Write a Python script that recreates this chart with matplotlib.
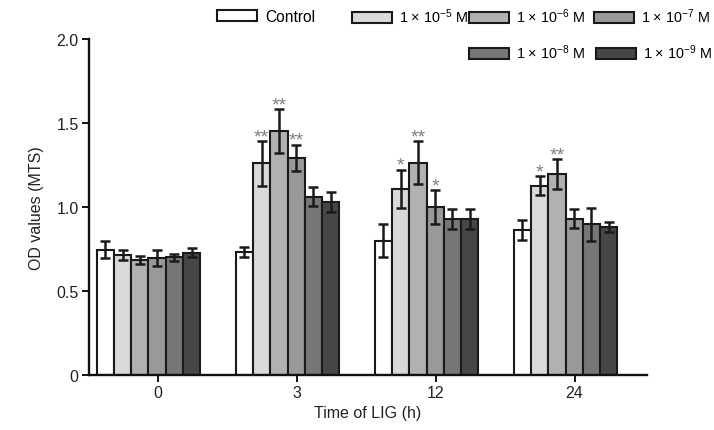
import matplotlib
matplotlib.use("Agg")
import matplotlib.pyplot as plt
from matplotlib.patches import Patch
import numpy as np

plt.rcParams['font.family'] = ['Liberation Sans', 'DejaVu Sans']
plt.rcParams['mathtext.fontset'] = 'custom'
plt.rcParams['mathtext.rm'] = 'Liberation Sans'
plt.rcParams['mathtext.it'] = 'Liberation Sans'

time_labels = ["0", "3", "12", "24"]
series_names = ["Control", "1 × 10$^{-5}$ M", "1 × 10$^{-6}$ M", "1 × 10$^{-7}$ M",
                "1 × 10$^{-8}$ M", "1 × 10$^{-9}$ M"]
colors = ["#ffffff", "#d9d9d9", "#b1b1b1", "#999999", "#777777", "#464646"]

control = [0.746, 0.732, 0.80, 0.863]
c_1e5 = [0.714, 1.26, 1.107, 1.127]
c_1e6 = [0.686, 1.454, 1.264, 1.196]
c_1e7 = [0.696, 1.294, 1.00, 0.93]
c_1e8 = [0.70, 1.061, 0.93, 0.897]
c_1e9 = [0.728, 1.03, 0.93, 0.883]

err_control = [0.05, 0.028, 0.10, 0.057]
err_1e5 = [0.03, 0.134, 0.115, 0.057]
err_1e6 = [0.025, 0.13, 0.13, 0.09]
err_1e7 = [0.05, 0.078, 0.10, 0.057]
err_1e8 = [0.02, 0.058, 0.058, 0.10]
err_1e9 = [0.027, 0.06, 0.058, 0.03]

# significance marks: (series index, group index, text)
sig_marks = [(1, 1, "**"), (2, 1, "**"), (3, 1, "**"),
             (1, 2, "*"), (2, 2, "**"), (3, 2, "*"),
             (1, 3, "*"), (2, 3, "**")]

values = [control, c_1e5, c_1e6, c_1e7, c_1e8, c_1e9]
errors = [err_control, err_1e5, err_1e6, err_1e7, err_1e8, err_1e9]

W, H = 714, 431
fig = plt.figure(figsize=(W / 100, H / 100), dpi=100)
ax = fig.add_axes([89 / W, 1 - 376 / H, (647 - 89) / W, (376 - 40) / H])

x = np.arange(len(time_labels))
bw = 0.124
for i, (vals, errs) in enumerate(zip(values, errors)):
    pos = x + (i - 2.5) * bw
    ax.bar(pos, vals, width=bw, color=colors[i], edgecolor="#1a1a1a",
           linewidth=1.5, zorder=2)
    ax.errorbar(pos, vals, yerr=errs, fmt="none", ecolor="#1a1a1a",
                elinewidth=1.8, capsize=3.4, capthick=1.8, zorder=3)

for si, gi, txt in sig_marks:
    px = x[gi] + (si - 2.5) * bw
    top = values[si][gi] + errors[si][gi]
    ax.annotate(txt, (px, top), xytext=(0, -3), textcoords="offset points",
                ha="center", va="bottom", fontsize=14, color="#808080")

ax.set_xlim(-0.428, 3.586)
ax.set_ylim(0, 2.0)
ax.set_xticks(x + 0.065)
ax.set_xticklabels(time_labels)
ax.set_yticks([0, 0.5, 1.0, 1.5, 2.0])
ax.set_yticklabels(["0", "0.5", "1.0", "1.5", "2.0"])
for s in ["top", "right"]:
    ax.spines[s].set_visible(False)
for s in ["left", "bottom"]:
    ax.spines[s].set_linewidth(1.7)
    ax.spines[s].set_color("#111111")
ax.tick_params(axis="both", length=5, width=1.4, labelsize=11.5, colors="#111111",
               labelcolor="#222222", pad=2.5)
ax.set_xlabel("Time of LIG (h)", fontsize=11.5, color="#222222", labelpad=3)
ax.set_ylabel("OD values (MTS)", fontsize=11.5, color="#222222", labelpad=9)

# legend entries placed as in the reference
leg_pos = [(217, 17), (352, 17), (469, 17), (594, 17), (469, 53), (596, 53)]
for i, (lx, ly) in enumerate(leg_pos):
    h = Patch(facecolor=colors[i], edgecolor="#1a1a1a", linewidth=1.5)
    fs = 11.2 if i == 0 else 10.4
    lg = fig.legend(handles=[h], labels=[series_names[i]], loc="center left",
                    bbox_to_anchor=(lx / W, 1 - ly / H), frameon=False,
                    fontsize=fs, handlelength=2.6 * 11.2 / fs, handleheight=0.7 * 11.2 / fs,
                    handletextpad=0.5 if i == 0 else 0.45, borderpad=0, borderaxespad=0)

fig.savefig("out.png", dpi=100)
